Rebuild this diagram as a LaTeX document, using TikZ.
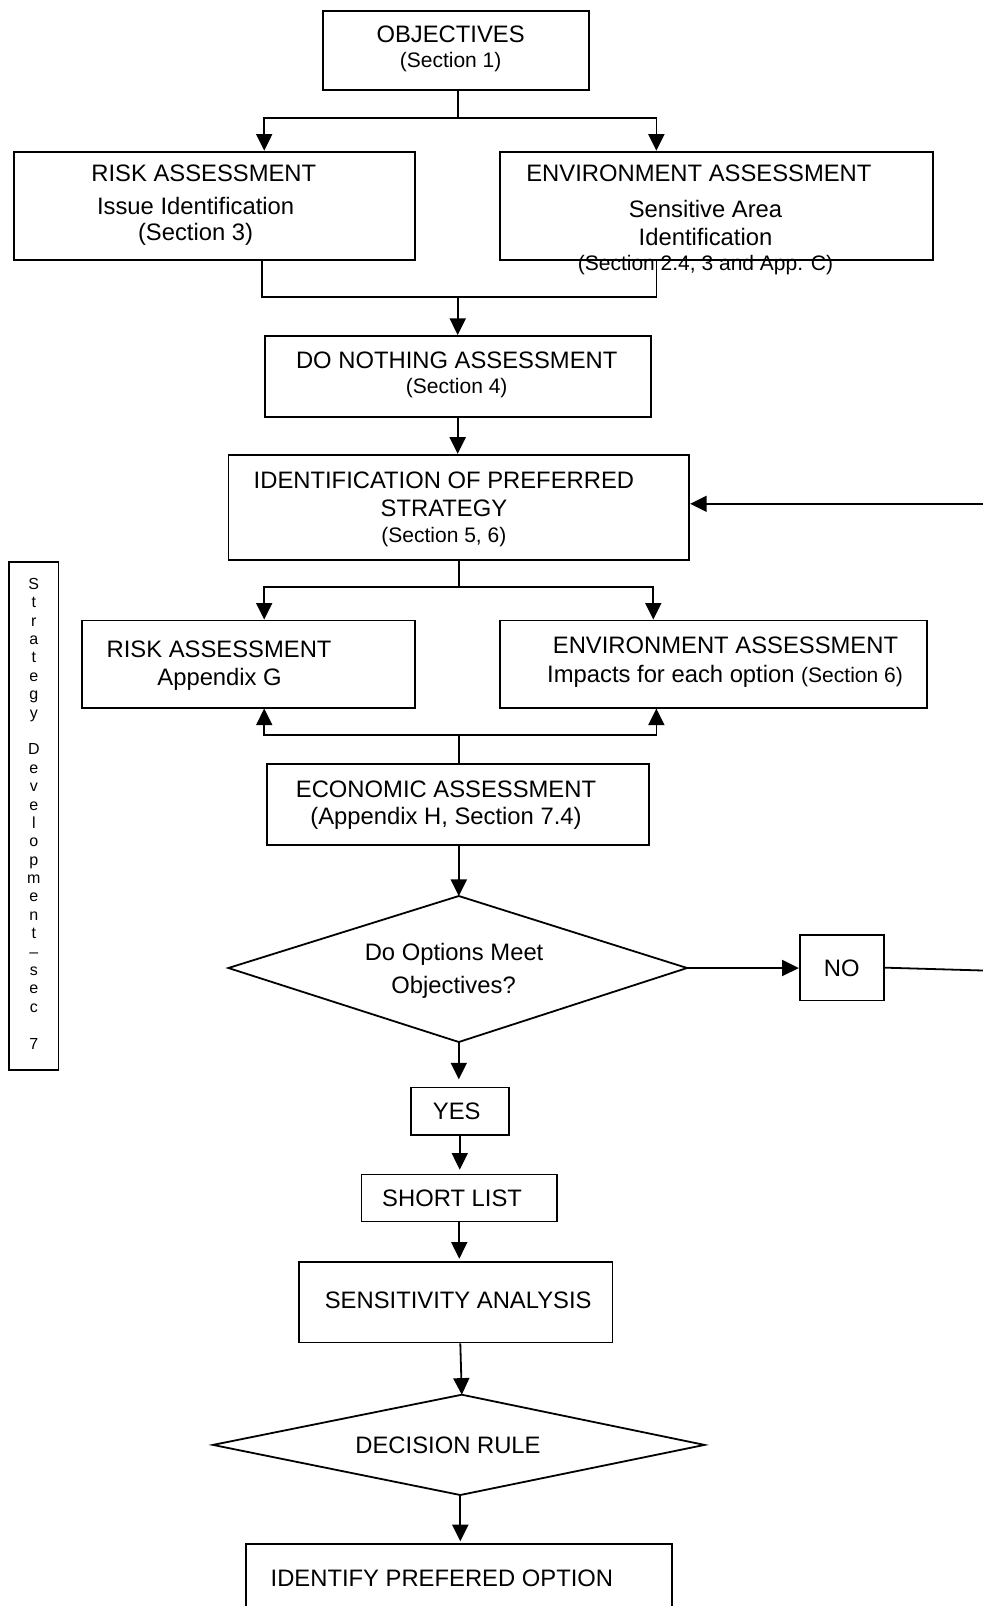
\documentclass[tikz,border=0pt]{standalone}
\usepackage{fontspec}
\setmainfont{Liberation Sans}
\usetikzlibrary{arrows.meta,calc}
\newcommand\mainf{\fontsize{11.9}{13.8}\selectfont}
\newcommand\smallf{\fontsize{10.5}{12}\selectfont}
\newcommand\letf{\fontsize{8}{9.2}\selectfont}
\begin{document}
\begin{tikzpicture}[x=0.5pt,y=-0.5pt,
  box/.style={draw, line width=0.9pt, inner sep=0pt},
  txt/.style={font=\mainf, anchor=base, inner sep=0pt},
  stxt/.style={font=\smallf, anchor=base, inner sep=0pt},
  ln/.style={line width=0.9pt},
  arr/.style={ln, -{Triangle[length=8.3pt,width=8pt]}},
  arrboth/.style={ln, {Triangle[length=8.3pt,width=8pt]}-{Triangle[length=8.3pt,width=8pt]}},
]
\clip (0,0) rectangle (983,1606);
\fill[white] (0,0) rectangle (983,1606);

% boxes
\node[box, minimum width=133.1pt, minimum height=39.4pt] (obj) at (455.7,50.7) {};
\node[box, minimum width=200.2pt, minimum height=54.25pt] (risk1) at (214.5,205.85) {};
\node[box, minimum width=216.6pt, minimum height=54.25pt] (env1) at (716.3,205.85) {};
\node[box, minimum width=193.05pt, minimum height=40.45pt] (dn) at (458.25,376.35) {};
\node[box, minimum width=230.4pt, minimum height=52.7pt] (ident) at (458.8,507.4) {};
\node[box, minimum width=166.4pt, minimum height=43.55pt] (risk2) at (248.3,664.05) {};
\node[box, minimum width=213.5pt, minimum height=43.55pt] (env2) at (713.2,664.05) {};
\node[box, minimum width=190.95pt, minimum height=40.45pt] (econ) at (458.25,804.35) {};
\node[box, minimum width=42pt, minimum height=32.75pt] (no) at (841.7,967.65) {};
\node[box, minimum width=49.15pt, minimum height=23.55pt] (yes) at (459.75,1111.05) {};
\node[box, minimum width=97.8pt, minimum height=23.5pt] (short) at (459.3,1198) {};
\node[box, minimum width=156.7pt, minimum height=40.45pt] (sens) at (455.7,1302.05) {};
\node[box, minimum width=212.95pt, minimum height=40.4pt] (final) at (458.75,1584.6) {};
\node[box, minimum width=24.6pt, minimum height=253.9pt] (strat) at (33.8,816.1) {};

% diamonds
\coordinate (d1t) at (458.8,896);
\coordinate (d1l) at (228.4,968);
\coordinate (d1r) at (687.1,968);
\coordinate (d1b) at (458.8,1042);
\draw[ln] (d1t) -- (d1r) -- (d1b) -- (d1l) -- cycle;
\coordinate (d2t) at (461.8,1394.7);
\coordinate (d2l) at (213,1444.9);
\coordinate (d2r) at (704.5,1444.9);
\coordinate (d2b) at (460.3,1495);
\draw[ln] (d2t) -- (d2r) -- (d2b) -- (d2l) -- cycle;

% texts
\node[txt] (tobj) at (450.6,42.3) {OBJECTIVES};
\node[stxt] (tobj2) at (450.6,67.9) {(Section 1)};
\node[txt] (tr1a) at (203.8,181.5) {RISK ASSESSMENT};
\node[txt] (tr1b) at (195.6,214.3) {Issue Identification};
\node[txt] (tr1c) at (195.6,240.9) {(Section 3)};
\node[txt] (te1a) at (698.9,181.5) {ENVIRONMENT ASSESSMENT};
\node[txt] (te1b) at (705.5,217.4) {Sensitive Area};
\node[txt] (te1c) at (705.5,245) {Identification};
\node[stxt] (te1d) at (705.5,270.7) {(Section 2.4, 3 and App. C)};
\node[txt] (tdn) at (456.7,368.9) {DO NOTHING ASSESSMENT};
\node[stxt] (tdn2) at (456.7,393.5) {(Section 4)};
\node[txt] (tid1) at (443.9,488.8) {IDENTIFICATION OF PREFERRED};
\node[txt] (tid2) at (443.9,516.4) {STRATEGY};
\node[stxt] (tid3) at (443.9,542) {(Section 5, 6)};
\node[txt] (tr2a) at (219.1,657.7) {RISK ASSESSMENT};
\node[txt] (tr2b) at (219.6,685.4) {Appendix G};
\node[txt] (te2a) at (725.5,653.6) {ENVIRONMENT ASSESSMENT};
\node[txt] (te2b) at (725,682.3) {Impacts for each option {\smallf(Section 6)}};
\node[txt] (tec1) at (446,797) {ECONOMIC ASSESSMENT};
\node[txt] (tec2) at (446,824.6) {(Appendix H, Section 7.4)};
\node[txt] (td1a) at (454.1,960.8) {Do Options Meet};
\node[txt] (td1b) at (453.6,993.6) {Objectives?};
\node[txt] (tno) at (841.7,976.2) {NO};
\node[txt] (tyes) at (456.7,1119.5) {YES};
\node[txt] (tshort) at (452.1,1206.5) {SHORT LIST};
\node[txt] (tsens) at (458.2,1308) {SENSITIVITY ANALYSIS};
\node[txt] (td2) at (448,1453.4) {DECISION RULE};
\node[txt] (tfinal) at (441.9,1586.5) {IDENTIFY PREFERED OPTION};
\node[font=\letf, align=center, inner sep=0pt] (tstrat) at (33.8,813.6)
  {S\\t\\r\\a\\t\\e\\g\\y\\[9.2pt]D\\e\\v\\e\\l\\o\\p\\m\\e\\n\\t\\–\\s\\e\\c\\[9.2pt]7};

% connectors
\coordinate (j1c) at (457.7,117.8);
\coordinate (j1l) at (264.2,117.8);
\coordinate (j1r) at (656.4,117.8);
\draw[ln] (obj.south -| j1c) -- (j1c);
\draw[arrboth] (risk1.north -| j1l) -- (j1l) -- (j1r) -- (env1.north -| j1r);

\coordinate (j2c) at (457.7,297);
\coordinate (j2l) at (262.1,297);
\coordinate (j2r) at (656.4,297);
\draw[ln] (risk1.south -| j2l) -- (j2l) -- (j2r) -- (env1.south -| j2r);
\draw[arr] (j2c) -- (dn.north -| j2c);
\draw[arr] (dn.south -| j2c) -- (ident.north -| j2c);

\coordinate (rin) at (983,503.8);
\draw[arr] (rin) -- (rin -| ident.east);

\coordinate (j3c) at (458.8,586.8);
\coordinate (j3l) at (264.2,586.8);
\coordinate (j3r) at (653.3,586.8);
\draw[ln] (ident.south -| j3c) -- (j3c);
\draw[arrboth] (risk2.north -| j3l) -- (j3l) -- (j3r) -- (env2.north -| j3r);

\coordinate (j4c) at (458.8,735.2);
\coordinate (j4l) at (264.2,735.2);
\coordinate (j4r) at (656.4,735.2);
\draw[ln] (econ.north -| j4c) -- (j4c);
\draw[arrboth] (risk2.south -| j4l) -- (j4l) -- (j4r) -- (env2.south -| j4r);

\draw[arr] (econ.south -| d1t) -- (d1t);
\draw[arr] (d1r) -- (no.west |- d1r);
\coordinate (nout) at (983,970.5);
\draw[ln] (no.east) -- (nout);
\draw[arr, shorten >=3.6pt] (d1b) -- (yes.north -| d1b);
\draw[arr, shorten >=2pt] (yes.south) -- (yes.south |- short.north);
\draw[arr, shorten >=1pt] (short.south) -- (short.south |- sens.north);
\draw[arr] (sens.south -| d2b) -- (d2t);
\draw[arr, shorten >=1pt] (d2b) -- (d2b |- final.north);
\end{tikzpicture}
\end{document}
